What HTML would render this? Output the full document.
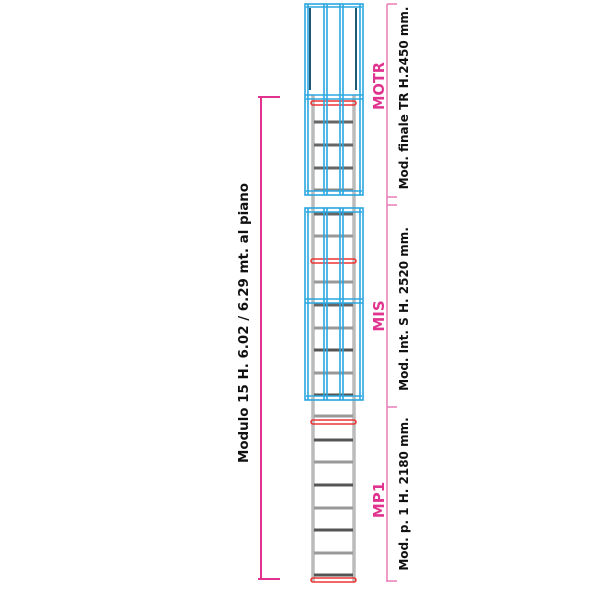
<!DOCTYPE html>
<html><head><meta charset="utf-8"><style>
html,body{margin:0;padding:0;background:#fff;}
svg{display:block;}
text{font-family:"DejaVu Sans","Liberation Sans",sans-serif;font-weight:bold;}
</style></head><body>
<svg width="600" height="600" viewBox="0 0 600 600" xmlns="http://www.w3.org/2000/svg">
<g stroke="#999" stroke-width="3" fill="none">
<line x1="313" y1="95" x2="313" y2="582"/>
<line x1="354" y1="95" x2="354" y2="582"/>
</g>
<g stroke="#ddd" stroke-width="1">
<line x1="313" y1="95" x2="313" y2="582"/>
<line x1="354" y1="95" x2="354" y2="582"/>
</g>
<g stroke-width="3">
<line x1="314" y1="122" x2="353" y2="122" stroke="#666"/>
<line x1="314" y1="145" x2="353" y2="145" stroke="#666"/>
<line x1="314" y1="168" x2="353" y2="168" stroke="#666"/>
<line x1="314" y1="190" x2="353" y2="190" stroke="#888"/>
<line x1="314" y1="214" x2="353" y2="214" stroke="#666"/>
<line x1="314" y1="236" x2="353" y2="236" stroke="#999"/>
<line x1="314" y1="282" x2="353" y2="282" stroke="#999"/>
<line x1="314" y1="305" x2="353" y2="305" stroke="#666"/>
<line x1="314" y1="328" x2="353" y2="328" stroke="#999"/>
<line x1="314" y1="350" x2="353" y2="350" stroke="#555"/>
<line x1="314" y1="373" x2="353" y2="373" stroke="#999"/>
<line x1="314" y1="395" x2="353" y2="395" stroke="#555"/>
<line x1="314" y1="416" x2="353" y2="416" stroke="#999"/>
<line x1="314" y1="440" x2="353" y2="440" stroke="#555"/>
<line x1="314" y1="462" x2="353" y2="462" stroke="#999"/>
<line x1="314" y1="485" x2="353" y2="485" stroke="#555"/>
<line x1="314" y1="508" x2="353" y2="508" stroke="#999"/>
<line x1="314" y1="530" x2="353" y2="530" stroke="#555"/>
<line x1="314" y1="553" x2="353" y2="553" stroke="#999"/>
<line x1="314" y1="575" x2="353" y2="575" stroke="#555"/>
</g>
<g stroke="#e33" stroke-width="1.5" fill="none">
<rect x="311" y="101" width="45" height="4" rx="2"/>
<rect x="311" y="259" width="45" height="4" rx="2"/>
<rect x="311" y="420" width="45" height="4" rx="2"/>
<rect x="311" y="578" width="45" height="4" rx="2"/>
</g>
<g stroke="#2aa7e0" fill="none" stroke-width="1.6">
<rect x="305" y="4" width="58" height="191"/>
<rect x="305" y="208" width="58" height="192"/>
<line x1="306" y1="7" x2="362" y2="7"/>
<line x1="305" y1="95" x2="363" y2="95"/>
<line x1="305" y1="99" x2="363" y2="99"/>
<line x1="306" y1="191" x2="362" y2="191"/>
<line x1="306" y1="212" x2="362" y2="212"/>
<line x1="305" y1="299" x2="363" y2="299"/>
<line x1="305" y1="303" x2="363" y2="303"/>
<line x1="306" y1="396" x2="362" y2="396"/>
<line x1="308" y1="4" x2="308" y2="195"/>
<line x1="324" y1="4" x2="324" y2="195"/>
<line x1="327" y1="4" x2="327" y2="195"/>
<line x1="340" y1="4" x2="340" y2="195"/>
<line x1="343" y1="4" x2="343" y2="195"/>
<line x1="360" y1="4" x2="360" y2="195"/>
<line x1="308" y1="208" x2="308" y2="400"/>
<line x1="324" y1="208" x2="324" y2="400"/>
<line x1="327" y1="208" x2="327" y2="400"/>
<line x1="340" y1="208" x2="340" y2="400"/>
<line x1="343" y1="208" x2="343" y2="400"/>
<line x1="360" y1="208" x2="360" y2="400"/>
</g>
<g stroke="#1d5a78" stroke-width="2">
<line x1="310" y1="8" x2="310" y2="90"/>
<line x1="356" y1="8" x2="356" y2="90"/>
</g>
<g stroke="#e0338f" stroke-width="2" fill="none">
<line x1="261" y1="97" x2="261" y2="579"/>
<line x1="258" y1="97" x2="280" y2="97"/>
<line x1="258" y1="579" x2="280" y2="579"/>
</g>
<text transform="translate(248,323) rotate(-90)" text-anchor="middle" font-size="13" fill="#111" textLength="280" lengthAdjust="spacingAndGlyphs">Modulo 15  H. 6.02 / 6.29 mt. al piano</text>
<g stroke="#e87ab5" stroke-width="1.5" fill="none">
<line x1="387" y1="4" x2="387" y2="582"/>
<line x1="387" y1="4" x2="397" y2="4"/>
<line x1="387" y1="197" x2="397" y2="197"/>
<line x1="387" y1="205" x2="397" y2="205"/>
<line x1="387" y1="407" x2="397" y2="407"/>
<line x1="387" y1="581" x2="397" y2="581"/>
</g>
<g fill="#e0338f" font-size="15" style="font-family:'Liberation Sans',sans-serif">
<text transform="translate(384,86) rotate(-90)" text-anchor="middle" textLength="48" lengthAdjust="spacingAndGlyphs">MOTR</text>
<text transform="translate(384,316) rotate(-90)" text-anchor="middle">MIS</text>
<text transform="translate(384,500) rotate(-90)" text-anchor="middle">MP1</text>
</g>
<g fill="#111" font-size="12">
<text transform="translate(408,98) rotate(-90)" text-anchor="middle">Mod. finale TR  H.2450 mm.</text>
<text transform="translate(408,309) rotate(-90)" text-anchor="middle">Mod. Int. S H. 2520 mm.</text>
<text transform="translate(408,494) rotate(-90)" text-anchor="middle">Mod. p. 1 H. 2180 mm.</text>
</g>
</svg>
</body></html>
